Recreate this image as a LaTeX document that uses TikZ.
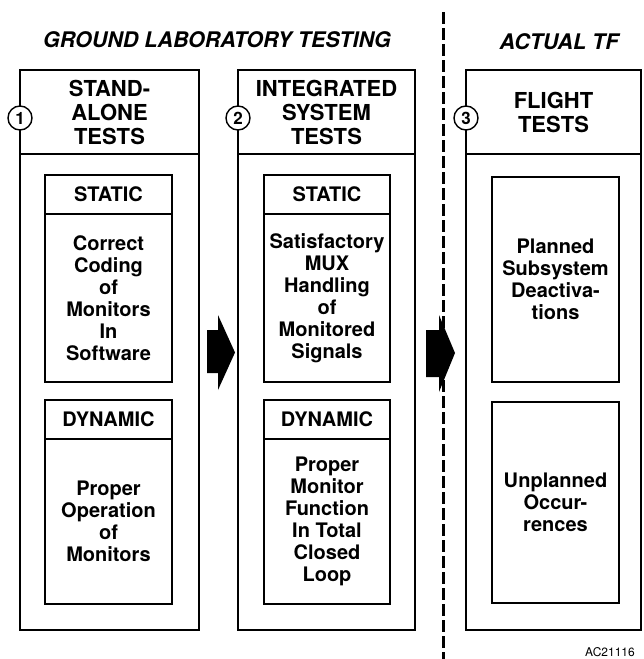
\documentclass[tikz,border=0pt]{standalone}
\usepackage{fontspec}
\setmainfont{TeX Gyre Heros}
\begin{document}
\begin{tikzpicture}[x=1pt,y=-1pt,
  box/.style={draw,line width=1.4pt,rectangle,inner sep=0pt,outer sep=0pt,align=center},
  heavy/.style={line width=2.4pt,line cap=rect},
  headtxt/.style={font=\bfseries\fontsize{22}{24}\selectfont},
  bodytxt/.style={font=\bfseries\fontsize{20}{22}\selectfont},
  titletxt/.style={font=\bfseries\itshape\fontsize{21.5}{24}\selectfont},
  num/.style={draw,circle,fill=white,line width=1.4pt,minimum size=24pt,inner sep=0pt,
              font=\bfseries\fontsize{17}{17}\selectfont},
  divider/.style={line width=3pt,dash pattern=on 12pt off 4pt},
  blockarrow/.style={fill=black}
]
% page and clipping frame
\fill[white] (0,0) rectangle (644,659);
\clip (0,0) rectangle (644,659);

% section titles
\node[titletxt] (t1) at (217,40) {GROUND LABORATORY TESTING};
\node[titletxt] (t2) at (559,42) {ACTUAL TF};

% column 1: stand-alone tests
\node[box,headtxt,minimum width=179pt,minimum height=84pt] (h1) at (109.5,112) {STAND-\\ALONE\\TESTS};
\node[box,minimum width=179pt,minimum height=476pt] (b1) at (109.5,392) {};
\node[box,bodytxt,minimum width=127pt,minimum height=39pt] (s1) at (108.5,194.5) {STATIC};
\node[box,bodytxt,minimum width=127pt,minimum height=168pt] (sb1) at (108.5,298) {Correct\\Coding\\of\\Monitors\\In\\Software};
\node[box,bodytxt,minimum width=127pt,minimum height=39pt] (d1) at (108.5,419.5) {DYNAMIC};
\node[box,bodytxt,minimum width=127pt,minimum height=165pt] (db1) at (108.5,521.5) {Proper\\Operation\\of\\Monitors};

% column 2: integrated system tests
\node[box,headtxt,minimum width=177pt,minimum height=84pt] (h2) at (326.5,112) {INTEGRATED\\SYSTEM\\TESTS};
\node[box,minimum width=177pt,minimum height=476pt] (b2) at (326.5,392) {};
\node[box,bodytxt,minimum width=126pt,minimum height=39pt] (s2) at (327,194.5) {STATIC};
\node[box,bodytxt,minimum width=126pt,minimum height=168pt] (sb2) at (327,298) {Satisfactory\\MUX\\Handling\\of\\Monitored\\Signals};
\node[box,bodytxt,minimum width=126pt,minimum height=39pt] (d2) at (327,419.5) {DYNAMIC};
\node[box,bodytxt,minimum width=126pt,minimum height=165pt] (db2) at (327,521.5) {Proper\\Monitor\\Function\\In Total\\Closed\\Loop};

% column 3: flight tests
\node[box,headtxt,minimum width=175pt,minimum height=84pt] (h3) at (553.5,112) {FLIGHT\\TESTS};
\node[box,minimum width=175pt,minimum height=476pt] (b3) at (553.5,392) {};
\node[box,bodytxt,minimum width=127pt,minimum height=205pt] (p3) at (555.5,279.5) {Planned\\Subsystem\\Deactiva-\\tions};
\node[box,bodytxt,minimum width=127pt,minimum height=201pt] (u3) at (555.5,502.5) {Unplanned\\Occur-\\rences};

% heavier right and bottom edges
\foreach \n in {h1,b1,s1,sb1,d1,db1,h2,b2,s2,sb2,d2,db2,h3,b3,p3,u3}
  \draw[heavy] (\n.north east) -- (\n.south east) -- (\n.south west);

% numbered markers on the left edges
\node[num] (c1) at (20,118) {1};
\node[num] (c2) at (238,118) {2};
\node[num] (c3) at (466,118) {3};

% ground / flight divider
\coordinate (dtop) at (443,12);
\coordinate (dbot) at (443,664);
\draw[divider] (dtop) -- (dbot);

% block arrows between the phases
\fill[blockarrow] (207,330) -- (218,330) -- (218,315) -- (235,352.5) -- (218,390) -- (218,373) -- (207,373) -- cycle;
\fill[blockarrow] (426,330) -- (439,330) -- (439,315) -- (455,353) -- (439,392) -- (439,377) -- (426,377) -- cycle;

% drawing number
\node[anchor=north west,inner sep=0pt,font=\fontsize{12}{12}\selectfont] (ref) at (585,647.5) {AC21116};
\end{tikzpicture}
\end{document}
